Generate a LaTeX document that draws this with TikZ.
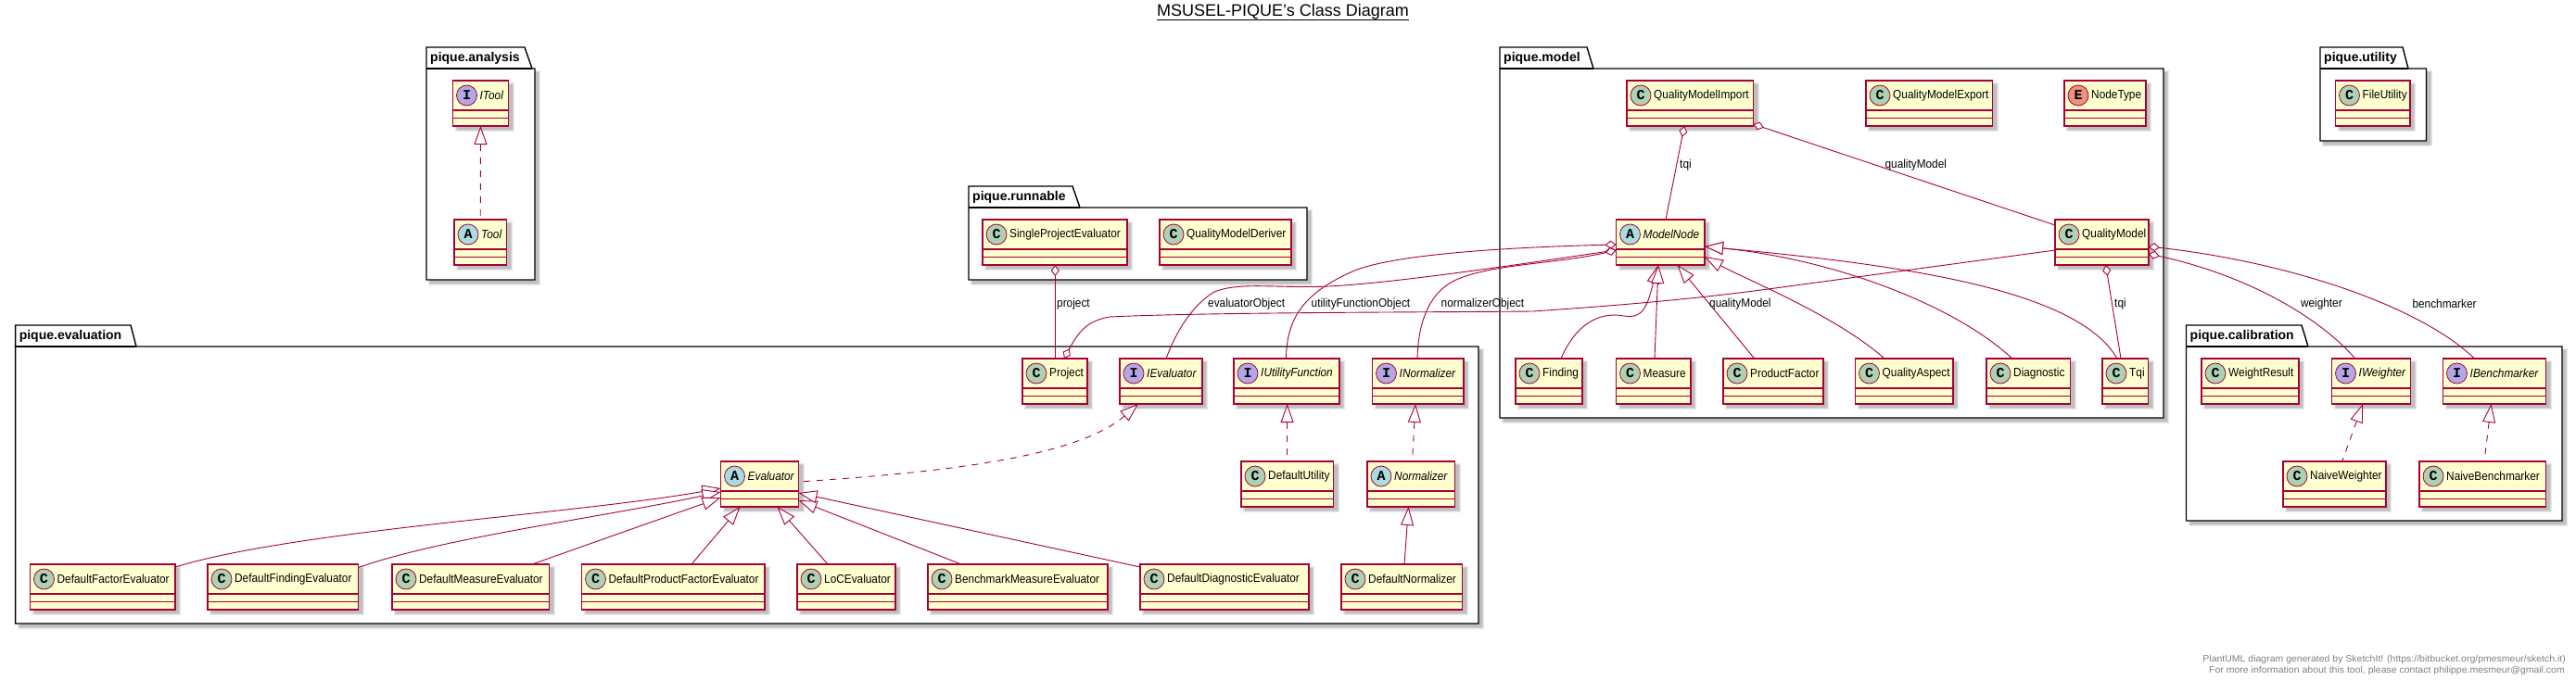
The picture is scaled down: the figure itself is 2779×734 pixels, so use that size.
\documentclass[tikz,border=0pt]{standalone}
\usepackage{fontspec}
\setmainfont{Liberation Sans}
\newfontfamily\narrowfont{Liberation Sans}[FakeStretch=0.91]
\newfontfamily\widefont{Liberation Sans}[FakeStretch=1.05]
\newfontfamily\letterfont{Liberation Mono}[BoldFont={Liberation Mono Bold}]
\usetikzlibrary{arrows.meta,calc}
\definecolor{pborder}{HTML}{A80036}
\definecolor{pfill}{HTML}{FEFECE}
\definecolor{cC}{HTML}{ADD1B2}
\definecolor{cI}{HTML}{B4A7E5}
\definecolor{cA}{HTML}{A9DCDF}
\definecolor{cE}{HTML}{EB937F}
\tikzset{
  classbox/.style={draw=pborder,fill=pfill,line width=1.2pt,inner sep=0pt,outer sep=0pt,rectangle},
  sepline/.style={draw=pborder,line width=1.2pt},
  spot/.style={circle,draw=pborder,line width=.8pt,minimum size=22pt,inner sep=0pt,outer sep=0pt,font=\letterfont\bfseries\fontsize{15}{15}\selectfont},
  clabel/.style={anchor=west,inner sep=0pt,font=\narrowfont\fontsize{13}{15}\selectfont},
  plabel/.style={anchor=west,inner sep=0pt,font=\bfseries\fontsize{14}{16}\selectfont},
  pkgline/.style={draw=black,fill=white,line width=1.4pt,line join=miter},
  conn/.style={draw=pborder,line width=.9pt},
  ext/.style={conn,{Triangle[length=20pt,width=14pt,fill=white]}-},
  impl/.style={ext,dash pattern=on 7pt off 7pt},
  agg/.style={conn,{Diamond[length=12pt,width=9pt,fill=white]}-},
  elabel/.style={anchor=west,inner sep=0pt,font=\narrowfont\fontsize{13}{15}\selectfont},
}
\newcommand{\shadowrect}[4]{%
  \fill[black,opacity=.09] (#1+2,#2+2) rectangle (#3+6,#4+6);
  \fill[black,opacity=.09] (#1+3,#2+3) rectangle (#3+5,#4+5);
  \fill[black,opacity=.09] (#1+4,#2+4) rectangle (#3+4,#4+4);
}
% id, letter, colour, x1, y1, x2, text
\newcommand{\cls}[7]{%
  \shadowrect{#4}{#5}{#6}{#5+49}
  \node[classbox,minimum width={(#6)-(#4)},minimum height=49pt] (#1) at ({((#4)+(#6))/2},{(#5)+24.5}) {};
  \draw[sepline] ([yshift=-32pt]#1.north west) -- ([yshift=-32pt]#1.north east);
  \draw[sepline] ([yshift=-40.5pt]#1.north west) -- ([yshift=-40.5pt]#1.north east);
  \node[spot,fill=#3] (#1-spot) at ({(#4)+15},{(#5)+16}) {#2};
  \node[clabel] (#1-name) at ({(#4)+29},{(#5)+16}) {#7};
}
% id, x1, tabtop, bodytop, x2, bottom, tabtopright, tabbottomright, text
\newcommand{\pkg}[9]{%
  \shadowrect{#2}{#4}{#5}{#6}
  \draw[pkgline] (#2,#4) -- (#2,#3) -- (#7,#3) -- (#8,#4) -- (#5,#4) -- (#5,#6) -- (#2,#6) -- cycle;
  \draw[draw=black,line width=1.4pt] (#2,#4) -- (#8,#4);
  \node[plabel] (#1) at (#2+4,{((#3)+(#4))/2}) {#9};
}
\begin{document}
\begin{tikzpicture}[x=1pt,y=-1pt]
\useasboundingbox (0,0) rectangle (2779,734);
\fill[white] (0,0) rectangle (2779,734);

% title
\node[inner sep=0pt,font=\fontsize{18}{20}\selectfont] (title) at (1384,13) {MSUSEL-PIQUE's Class Diagram};
\draw[line width=1pt] (title.west |- 0,21.5) -- (title.east |- 0,21.5);

% packages
\pkg{panalysis}{460}{51}{74}{577}{302}{566}{574}{pique.analysis}
\pkg{prunnable}{1045}{201}{224}{1410}{302}{1157}{1165}{pique.runnable}
\pkg{pevaluation}{16.6}{351}{374}{1595}{673}{141}{147}{pique.evaluation}
\pkg{pmodel}{1618}{51}{74}{2334}{451}{1712}{1719}{pique.model}
\pkg{putility}{2503}{51}{74}{2617.5}{152}{2592}{2598}{pique.utility}
\pkg{pcalibration}{2358.5}{351}{374}{2764}{562}{2483}{2490}{pique.calibration}

% classes
\cls{itool}{I}{cI}{488.5}{87}{548.5}{\textit{ITool}}
\cls{tool}{A}{cA}{490}{237}{546.5}{\textit{Tool}}
\cls{spe}{C}{cC}{1060}{237}{1216}{SingleProjectEvaluator}
\cls{qmd}{C}{cC}{1251}{237}{1393}{QualityModelDeriver}
\cls{project}{C}{cC}{1103}{387}{1173}{Project}
\cls{ievaluator}{I}{cI}{1208}{387}{1297}{\textit{IEvaluator}}
\cls{iutility}{I}{cI}{1331}{387}{1445}{\textit{IUtilityFunction}}
\cls{inormalizer}{I}{cI}{1480.5}{387}{1579}{\textit{INormalizer}}
\cls{evaluator}{A}{cA}{777.5}{498}{861.5}{\textit{Evaluator}}
\cls{dutility}{C}{cC}{1339}{498}{1438.5}{DefaultUtility}
\cls{normalizer}{A}{cA}{1475}{498}{1569.5}{\textit{Normalizer}}
\cls{dfe}{C}{cC}{32.5}{609}{189}{DefaultFactorEvaluator}
\cls{dfi}{C}{cC}{224}{609}{386.5}{DefaultFindingEvaluator}
\cls{dme}{C}{cC}{423}{609}{592.5}{DefaultMeasureEvaluator}
\cls{dpf}{C}{cC}{627.5}{609}{825}{DefaultProductFactorEvaluator}
\cls{loc}{C}{cC}{860}{609}{966}{LoCEvaluator}
\cls{bme}{C}{cC}{1001}{609}{1195}{BenchmarkMeasureEvaluator}
\cls{dde}{C}{cC}{1230}{609}{1412}{DefaultDiagnosticEvaluator}
\cls{dnorm}{C}{cC}{1447}{609}{1577.5}{DefaultNormalizer}
\cls{qmi}{C}{cC}{1755}{87}{1891.5}{QualityModelImport}
\cls{qme}{C}{cC}{2013}{87}{2149.5}{QualityModelExport}
\cls{nodetype}{E}{cE}{2227}{87}{2315}{NodeType}
\cls{modelnode}{A}{cA}{1743.5}{237}{1839}{\textit{ModelNode}}
\cls{qm}{C}{cC}{2217}{237}{2318}{QualityModel}
\cls{finding}{C}{cC}{1635}{387}{1707}{Finding}
\cls{measure}{C}{cC}{1743.5}{387}{1824}{Measure}
\cls{pfactor}{C}{cC}{1859}{387}{1967}{ProductFactor}
\cls{qaspect}{C}{cC}{2001.5}{387}{2107}{QualityAspect}
\cls{diagnostic}{C}{cC}{2143}{387}{2233.5}{Diagnostic}
\cls{tqi}{C}{cC}{2268}{387}{2317.5}{Tqi}
\cls{fileutil}{C}{cC}{2519.5}{87}{2600}{FileUtility}
\cls{weightres}{C}{cC}{2375}{387}{2480}{WeightResult}
\cls{iweighter}{I}{cI}{2515.5}{387}{2600.5}{\textit{IWeighter}}
\cls{ibench}{I}{cI}{2635.5}{387}{2746.5}{\textit{IBenchmarker}}
\cls{nweighter}{C}{cC}{2463}{498}{2574}{NaiveWeighter}
\cls{nbench}{C}{cC}{2610}{498}{2746.5}{NaiveBenchmarker}

% analysis
\draw[impl] (itool.south) -- (tool.north);

% evaluation
\draw[ext] ([yshift=-29pt]evaluator.north west) .. controls (620,555) and (320,572) .. ([yshift=-3pt]dfe.north east);
\draw[ext] ([yshift=-33pt]evaluator.north west) .. controls (640,560) and (480,580) .. ([yshift=-3.5pt]dfi.north east);
\draw[ext] ([yshift=-39pt]evaluator.north west) -- ([xshift=151pt]dme.north west);
\draw[ext] ([xshift=21pt]evaluator.south west) -- ([xshift=118.5pt]dpf.north west);
\draw[ext] ([xshift=61pt]evaluator.south west) -- ([xshift=33pt]loc.north west);
\draw[ext] ([yshift=-42pt]evaluator.north east) -- ([xshift=36pt]bme.north west);
\draw[ext] ([yshift=-34pt]evaluator.north east) -- ([yshift=-3pt]dde.north west);
\draw[impl] ([xshift=20pt]ievaluator.south west) .. controls (1160,495) and (1010,510) .. ([yshift=-22pt]evaluator.north east);
\draw[impl] ([xshift=57.6pt]iutility.south west) -- ([xshift=49.6pt]dutility.north west);
\draw[impl] ([xshift=46.5pt]inormalizer.south west) -- ([xshift=48.5pt]normalizer.north west);
\draw[ext] ([xshift=44.5pt]normalizer.south west) -- ([xshift=68pt]dnorm.north west);

% runnable to evaluation
\draw[agg] ([xshift=78.3pt]spe.south west) -- ([xshift=35.3pt]project.north west);
\draw[agg] ([xshift=45pt]project.north west) .. controls (1165,355) and (1175,346) .. (1197,342)
   .. controls (1300,337) and (1550,337) .. (1654,336)
   .. controls (1710,332) and (1800,326) .. (1900,313) -- ([yshift=-33pt]qm.north west);

% model
\draw[agg] ([xshift=62pt]qmi.south west) -- ([xshift=53.5pt]modelnode.north west);
\draw[agg] ([yshift=-47pt]qmi.north east) -- ([yshift=-6pt]qm.north west);
\draw[agg] ([yshift=-27pt]modelnode.north west) .. controls (1620,267) and (1500,275) .. (1459,293)
   .. controls (1410,315) and (1388,340) .. ([xshift=56.5pt]iutility.north west);
\draw[agg] ([yshift=-33pt]modelnode.north west) .. controls (1660,282) and (1480,310) .. (1413,309.5)
   .. controls (1370,310) and (1335,305) .. (1310,315)
   .. controls (1285,330) and (1268,360) .. ([xshift=50pt]ievaluator.north west);
\draw[agg] ([yshift=-33pt]modelnode.north west) .. controls (1680,285) and (1600,285) .. (1565,305)
   .. controls (1540,320) and (1530,350) .. ([xshift=48.5pt]inormalizer.north west);
\draw[ext] ([xshift=45.5pt]modelnode.south west) .. controls (1778,325) and (1775,345) .. (1752,341)
   .. controls (1725,336) and (1700,350) .. ([xshift=49pt]finding.north west);
\draw[ext] ([xshift=45.5pt]modelnode.south west) -- ([xshift=41.5pt]measure.north west);
\draw[ext] ([xshift=66pt]modelnode.south west) -- ([xshift=33.7pt]pfactor.north west);
\draw[ext] ([yshift=-40pt]modelnode.north east) .. controls (1880,300) and (1980,340) .. ([xshift=31.5pt]qaspect.north west);
\draw[ext] ([yshift=-29pt]modelnode.north east) .. controls (1980,280) and (2110,330) .. ([xshift=27.7pt]diagnostic.north west);
\draw[ext] ([yshift=-29pt]modelnode.north east) .. controls (2040,285) and (2240,310) .. ([xshift=16pt]tqi.north west);
\draw[agg] ([xshift=54.7pt]qm.south west) -- ([xshift=20pt]tqi.north west);

% model to calibration
\draw[agg] ([yshift=-29pt]qm.north east) .. controls (2470,283) and (2610,330) .. ([xshift=34pt]ibench.north west);
\draw[agg] ([yshift=-37pt]qm.north east) .. controls (2420,296) and (2500,340) .. ([xshift=25.2pt]iweighter.north west);

% calibration
\draw[impl] ([xshift=33.5pt]iweighter.south west) -- ([xshift=63.7pt]nweighter.north west);
\draw[impl] ([xshift=52pt]ibench.south west) -- ([xshift=70pt]nbench.north west);

% connector labels
\node[elabel] (l1) at (1140,328) {project};
\node[elabel] (l2) at (1303,328) {evaluatorObject};
\node[elabel] (l3) at (1414.5,328) {utilityFunctionObject};
\node[elabel] (l4) at (1554.5,328) {normalizerObject};
\node[elabel] (l5) at (1844,328) {qualityModel};
\node[elabel] (l6) at (1812,178) {tqi};
\node[elabel] (l7) at (2033.4,178) {qualityModel};
\node[elabel] (l8) at (2281,328) {tqi};
\node[elabel] (l9) at (2481.8,328) {weighter};
\node[elabel] (l10) at (2602.3,328) {benchmarker};

% footer
\node[anchor=east,inner sep=0pt,text=gray,font=\widefont\fontsize{10}{12}\selectfont] (f1) at (2768,712) {PlantUML diagram generated by SketchIt! (https://bitbucket.org/pmesmeur/sketch.it)};
\node[anchor=east,inner sep=0pt,text=gray,font=\widefont\fontsize{10}{12}\selectfont] (f2) at (2767,724) {For more information about this tool, please contact philippe.mesmeur@gmail.com};
\end{tikzpicture}
\end{document}
